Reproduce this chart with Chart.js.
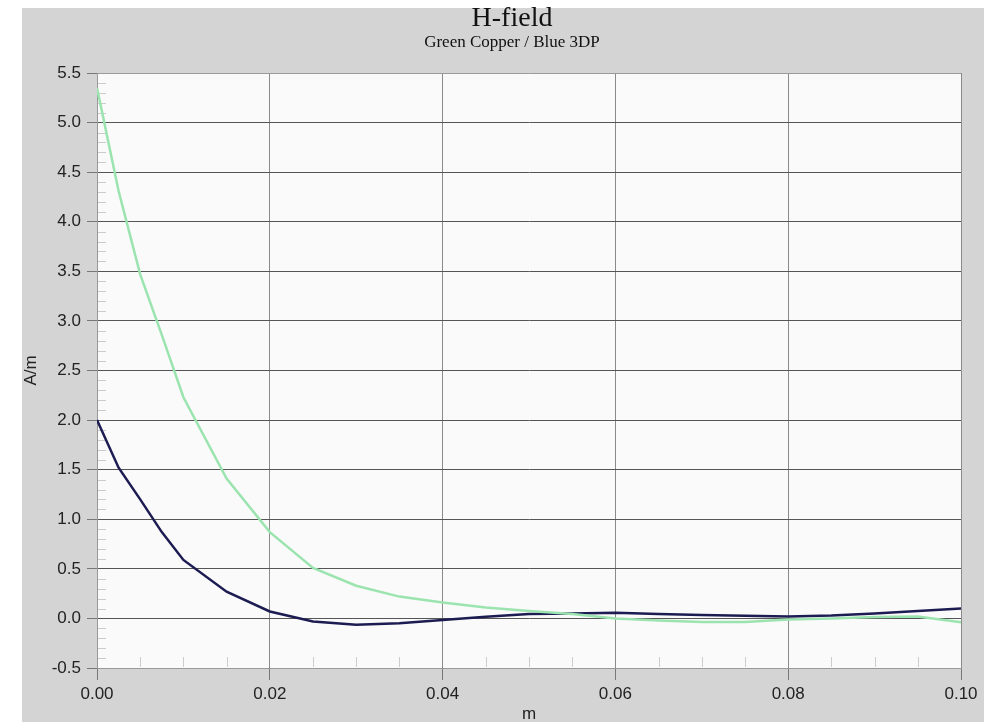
<!DOCTYPE html>
<html lang="en">
<head>
    <meta charset="UTF-8">
    <title>H-field</title>
    <script src="https://cdn.jsdelivr.net/npm/chart.js"></script>
    <style>
        body { margin: 0; background: #fff; }
        canvas { display: block; }
    </style>
</head>
<body>
    <canvas id="chartCanvas" width="984" height="722"></canvas>
    <script>
        const titleText = 'H-field';
        const subtitleText = 'Green Copper / Blue 3DP';

        // positions along the line (m)
        const xs = [0, 0.0025, 0.005, 0.0075, 0.01, 0.015, 0.02, 0.025, 0.03, 0.035, 0.04, 0.045,
                    0.05, 0.055, 0.06, 0.065, 0.07, 0.075, 0.08, 0.085, 0.09, 0.095, 0.1];
        // H-field (A/m)
        const copper = [5.35, 4.31, 3.47, 2.86, 2.23, 1.41, 0.87, 0.51, 0.33, 0.22, 0.16, 0.11,
                        0.075, 0.045, 0.0, -0.02, -0.035, -0.035, -0.01, 0.0, 0.015, 0.02, -0.04];
        const printed = [2.0, 1.52, 1.2, 0.87, 0.59, 0.27, 0.07, -0.03, -0.065, -0.048, -0.015, 0.018,
                         0.045, 0.05, 0.057, 0.045, 0.034, 0.027, 0.02, 0.03, 0.05, 0.075, 0.1];

        const near = (a, b) => Math.abs(a - b) < 1e-9;

        // gray frame, plot face, title text
        const frame = {
            id: 'frame',
            beforeDraw(chart) {
                const { ctx, chartArea: a } = chart;
                ctx.save();
                ctx.fillStyle = '#ffffff';
                ctx.fillRect(0, 0, chart.width, chart.height);
                ctx.fillStyle = '#d4d4d4';
                ctx.fillRect(22, 8, chart.width - 22, chart.height - 8);
                ctx.fillStyle = '#fafafa';
                ctx.fillRect(a.left, a.top, a.right - a.left, a.bottom - a.top);
                ctx.restore();
            },
            beforeDatasetsDraw(chart) {
                // minor ticks inside the plot
                const { ctx, chartArea: a, scales } = chart;
                ctx.save();
                ctx.strokeStyle = '#cccccc';
                ctx.lineWidth = 1;
                ctx.beginPath();
                for (let i = -5; i <= 55; i++) {
                    if (i % 5 === 0) continue;
                    const y = Math.round(scales.y.getPixelForValue(i / 10)) + 0.5;
                    ctx.moveTo(a.left + 1, y);
                    ctx.lineTo(a.left + 9, y);
                }
                for (let i = 1; i < 20; i++) {
                    if (i % 4 === 0) continue;
                    const x = Math.round(scales.x.getPixelForValue(i * 0.005)) + 0.5;
                    ctx.moveTo(x, a.bottom - 1);
                    ctx.lineTo(x, a.bottom - 11);
                }
                ctx.stroke();
                ctx.restore();
            },
            afterDraw(chart) {
                const { ctx } = chart;
                ctx.save();
                ctx.fillStyle = '#111';
                ctx.textAlign = 'center';
                ctx.textBaseline = 'middle';
                ctx.font = '28px "Liberation Serif"';
                ctx.fillText(titleText, 512, 19);
                ctx.font = '17px "Liberation Serif"';
                ctx.fillText(subtitleText, 512, 43);
                ctx.restore();
            }
        };

        const tickFont = { family: 'Liberation Sans', size: 17 };

        const chart = new Chart(document.getElementById('chartCanvas'), {
            type: 'line',
            data: {
                datasets: [
                    { label: 'Copper', data: xs.map((x, i) => ({ x: x, y: copper[i] })),
                      borderColor: 'rgb(155, 228, 175)', borderWidth: 2.5, pointRadius: 0, fill: false },
                    { label: '3DP', data: xs.map((x, i) => ({ x: x, y: printed[i] })),
                      borderColor: 'rgb(28, 28, 82)', borderWidth: 2.5, pointRadius: 0, fill: false }
                ]
            },
            options: {
                responsive: false,
                animation: false,
                layout: { padding: { left: 22, top: 73, right: 23, bottom: 0 } },
                plugins: { legend: { display: false }, tooltip: { enabled: false } },
                scales: {
                    x: {
                        type: 'linear', min: 0, max: 0.1,
                        afterFit: s => { s.height = 54; },
                        ticks: { stepSize: 0.02, callback: v => v.toFixed(2), font: tickFont, color: '#222', padding: 4, maxRotation: 0 },
                        grid: { color: '#8a8a8a', tickColor: '#777', tickLength: 12, lineWidth: 1 },
                        border: { color: '#999' },
                        title: { display: true, text: 'm', font: { family: 'Liberation Sans', size: 17, lineHeight: 1 }, color: '#222', padding: { top: 0, bottom: -1 } }
                    },
                    y: {
                        min: -0.5, max: 5.5,
                        afterFit: s => { s.width = 75; },
                        ticks: { stepSize: 0.5, callback: v => v.toFixed(1), font: tickFont, color: '#222', padding: 6 },
                        grid: {
                            color: c => (c.tick && (near(c.tick.value, 5.5) || near(c.tick.value, -0.5))) ? '#9a9a9a' : '#555',
                            tickColor: '#777', tickLength: 10, lineWidth: 1
                        },
                        border: { color: '#999' },
                        title: { display: true, text: 'A/m', font: { family: 'Liberation Sans', size: 17, lineHeight: 1 }, color: '#222', padding: { top: 1, bottom: 0 } }
                    }
                }
            },
            plugins: [frame]
        });
    </script>
</body>
</html>
